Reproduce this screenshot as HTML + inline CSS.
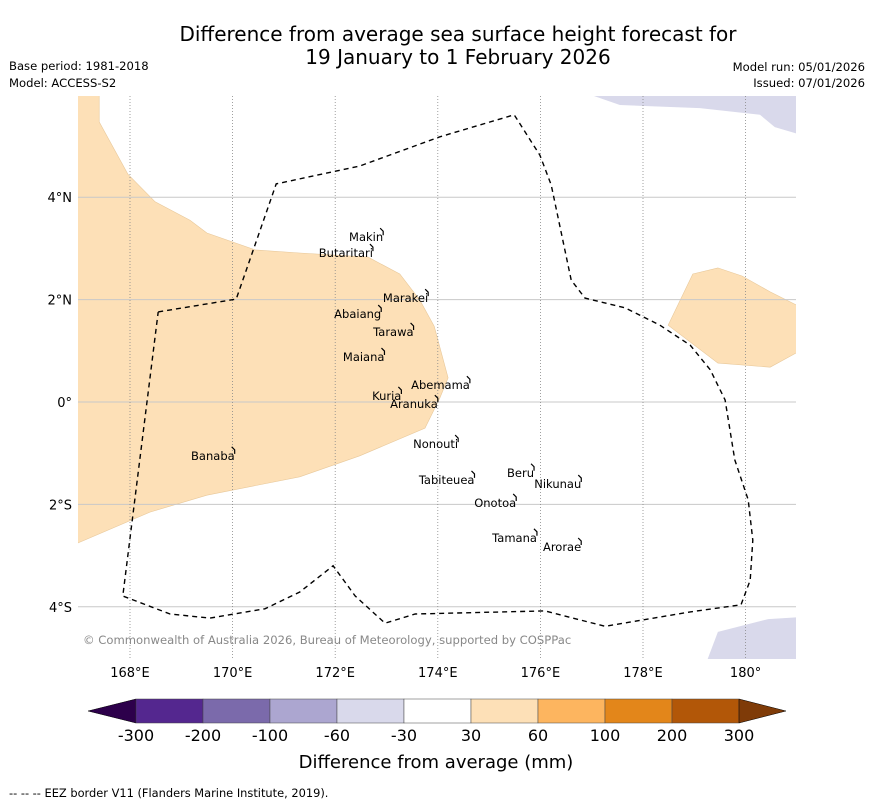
<!DOCTYPE html>
<html><head><meta charset="utf-8">
<style>
body{margin:0;background:#fff;font-family:"Liberation Sans","DejaVu Sans",sans-serif;}
#wrap{position:relative;width:873px;height:804px;overflow:hidden;}
</style></head>
<body>
<div id="wrap">
<svg id="svg" width="873" height="804" xmlns="http://www.w3.org/2000/svg" font-family="DejaVu Sans, Liberation Sans, sans-serif">
<text x="458" y="41" font-size="20" text-anchor="middle" fill="#000">Difference from average sea surface height forecast for</text>
<text x="458" y="64" font-size="20" text-anchor="middle" fill="#000">19 January to 1 February 2026</text>
<text x="9" y="70" font-size="11.6">Base period: 1981-2018</text>
<text x="9" y="87" font-size="11.6">Model: ACCESS-S2</text>
<text x="865" y="71" font-size="11.6" text-anchor="end">Model run: 05/01/2026</text>
<text x="865" y="87" font-size="11.6" text-anchor="end">Issued: 07/01/2026</text>
<defs><clipPath id="mapclip"><rect x="78" y="96" width="718" height="563"/></clipPath></defs>
<g id="map" clip-path="url(#mapclip)"></g>
<g id="axes"></g>
<g id="cbar"></g>
<text x="436" y="768" font-size="18" text-anchor="middle">Difference from average (mm)</text>
<text x="9" y="797" font-size="11.4">--  --  -- EEZ border V11 (Flanders Marine Institute, 2019).</text>
</svg>
</div>
<script>
const lonTicks=[168,170,172,174,176,178,180];
const lonLabels=["168°E","170°E","172°E","174°E","176°E","178°E","180°"];
const latTicks=[4,2,0,-2,-4];
const latLabels=["4°N","2°N","0°","2°S","4°S"];
const eezLon=[168.55,170.07,170.85,172.48,174.04,175.49,175.99,176.21,176.60,176.87,177.65,178.33,178.92,179.31,179.60,179.79,180.05,180.14,180.09,179.91,178.92,177.26,176.09,173.56,172.97,172.39,171.96,171.31,170.63,169.56,168.78,167.86,168.55];
const eezLat=[1.76,2.01,4.26,4.61,5.18,5.61,4.82,4.24,2.38,2.03,1.84,1.50,1.11,0.63,0.04,-1.13,-1.91,-2.70,-3.48,-3.96,-4.10,-4.38,-4.08,-4.14,-4.32,-3.79,-3.20,-3.71,-4.04,-4.22,-4.14,-3.79,1.76];
const orangeLon=[166.9,167.40,167.40,167.96,168.49,169.17,169.50,170.44,171.31,172.64,173.26,173.65,173.93,174.20,174.04,173.75,172.48,171.31,169.50,168.39,166.9];
const orangeLat=[6.1,6.1,5.47,4.45,3.91,3.55,3.30,2.97,2.91,2.83,2.50,1.99,1.48,0.47,0.08,-0.51,-1.05,-1.46,-1.82,-2.15,-2.79];
const orange2Lon=[178.49,178.97,179.46,179.93,180.48,181.1,181.1,180.48,179.46];
const orange2Lat=[1.50,2.50,2.62,2.46,2.15,1.84,1.02,0.68,0.76];
const purpleTopLon=[176.69,181.1,181.1,180.57,180.28,179.11,177.55];
const purpleTopLat=[6.1,6.1,5.21,5.37,5.61,5.74,5.80];
const purpleBotLon=[179.23,179.46,180.44,181.1,181.1];
const purpleBotLat=[-5.1,-4.49,-4.24,-4.2,-5.1];
const islandNames=["Makin","Butaritari","Marakei","Abaiang","Tarawa","Maiana","Abemama","Kuria","Aranuka","Banaba","Nonouti","Tabiteuea","Beru","Nikunau","Onotoa","Tamana","Arorae"];
const islandLon=[172.27,171.68,172.93,171.98,172.74,172.15,173.48,172.72,173.07,169.19,173.52,173.63,175.35,175.88,174.71,175.06,176.05];
const islandLat=[3.14,2.83,1.95,1.64,1.29,0.80,0.25,0.04,-0.12,-1.13,-0.90,-1.60,-1.46,-1.68,-2.05,-2.73,-2.91];
const cbarBounds=["-300","-200","-100","-60","-30","30","60","100","200","300"];
const cbarColors=["#54278f","#7b6aab","#aca6d0","#d9d9eb","#ffffff","#fde0b7","#fdb55f","#e3861a","#b25708"];

const NS="http://www.w3.org/2000/svg";
const X=lon=>130+(lon-168)*51.3;
const Y=lat=>402-lat*51.2;
function mk(tag,attrs,parent){const e=document.createElementNS(NS,tag);for(const k in attrs)e.setAttribute(k,attrs[k]);parent.appendChild(e);return e;}
const map=document.getElementById('map'),axes=document.getElementById('axes'),cbar=document.getElementById('cbar');
function pts(lo,la){return lo.map((v,i)=>X(v).toFixed(1)+','+Y(la[i]).toFixed(1)).join(' ');}

let r=mk('rect',{x:78,y:96,width:718,height:563,fill:'#fff'},map);

let p=mk('polygon',{points:pts(orangeLon,orangeLat),fill:'#fde0b7',stroke:'#e8c89a','stroke-width':0.6},map);

p=mk('polygon',{points:pts(orange2Lon,orange2Lat),fill:'#fde0b7',stroke:'#e8c89a','stroke-width':0.6},map);

p=mk('polygon',{points:pts(purpleTopLon,purpleTopLat),fill:'#d9d9eb'},map);

p=mk('polygon',{points:pts(purpleBotLon,purpleBotLat),fill:'#d9d9eb'},map);


latTicks.forEach((la,i)=>{
 let l=mk('line',{x1:78,x2:796,y1:Y(la),y2:Y(la),stroke:'#c8c8c8','stroke-width':1},map);
 
 let t=mk('text',{x:72,y:Y(la)+5,'font-size':13,'text-anchor':'end'},axes);t.textContent=latLabels[i];
 
});
lonTicks.forEach((lo,i)=>{
 let l=mk('line',{x1:X(lo),x2:X(lo),y1:96,y2:659,stroke:'#888','stroke-width':0.8,'stroke-dasharray':'1,2'},map);
 
 let t=mk('text',{x:X(lo),y:677,'font-size':13,'text-anchor':'middle'},axes);t.textContent=lonLabels[i];
 
});
p=mk('polyline',{points:pts(eezLon,eezLat),fill:'none',stroke:'#000','stroke-width':1.4,'stroke-dasharray':'5,4'},map);


islandNames.forEach((n,i)=>{
 const x=X(islandLon[i]),y=Y(islandLat[i]);
 let t=mk('text',{x:x,y:y,'font-size':11.5,fill:'#000'},map);t.textContent=n;
 
 const w=t.getComputedTextLength?t.getComputedTextLength():n.length*7;
 let s=mk('path',{d:`M${x+w-3},${y-13} l3,3 l0,4`,fill:'none',stroke:'#000','stroke-width':1.2},map);
 
});
let c=mk('text',{x:83,y:644,'font-size':11.6,fill:'#888'},map);
c.textContent='© Commonwealth of Australia 2026, Bureau of Meteorology, supported by COSPPac';


const cx0=136,cw=67,cy=699,ch=24;
let a=mk('polygon',{points:`${cx0},${cy} ${cx0},${cy+ch} 88,${cy+ch/2}`,fill:'#2d004b',stroke:'#000','stroke-width':0.5},cbar);

cbarColors.forEach((col,i)=>{
 let rr=mk('rect',{x:cx0+i*cw,y:cy,width:cw,height:ch,fill:col,stroke:'#444','stroke-width':0.5},cbar);
 
});
const cx1=cx0+cbarColors.length*cw;
a=mk('polygon',{points:`${cx1},${cy} ${cx1},${cy+ch} 786,${cy+ch/2}`,fill:'#7f3b08',stroke:'#000','stroke-width':0.5},cbar);

cbarBounds.forEach((b,i)=>{
 let t=mk('text',{x:cx0+i*cw,y:741,'font-size':16,'text-anchor':'middle'},cbar);t.textContent=b;
 
});
</script>
</body></html>
